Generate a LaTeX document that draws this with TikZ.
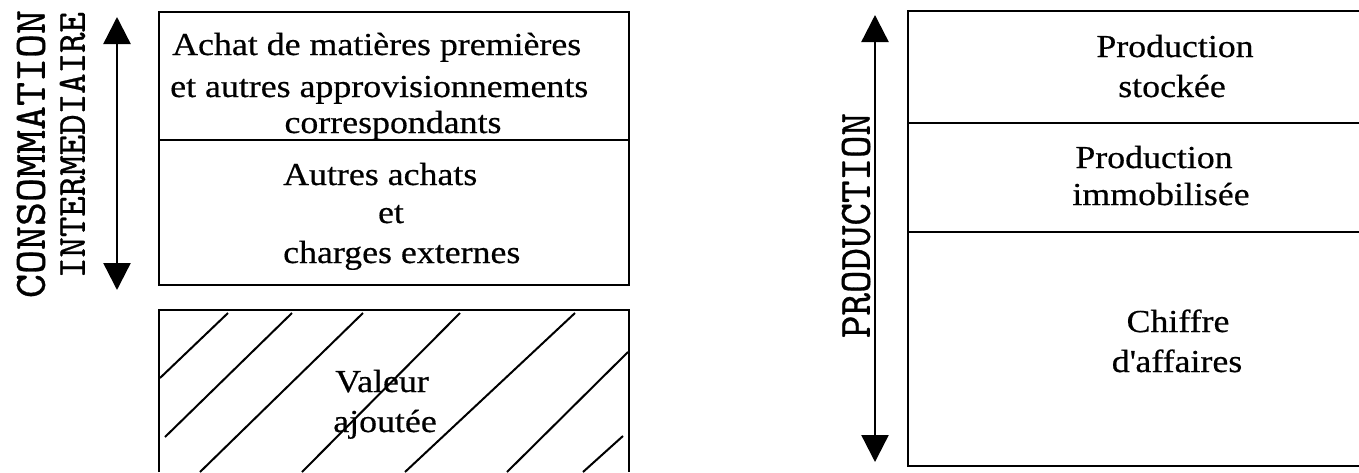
\documentclass[tikz,border=0pt]{standalone}
\usepackage{fontspec}
\setmainfont{Liberation Serif}[FakeStretch=1.12, FakeBold=0.5]
\setmonofont{Latin Modern Mono}[FakeBold=0.6]
\usetikzlibrary{arrows.meta}

\begin{document}
\begin{tikzpicture}[x=1pt, y=-1pt,
  frame/.style={line width=2.2pt},
  hatchline/.style={line width=2pt},
  txt/.style={inner sep=0pt, font=\fontsize{32}{38}\selectfont},
  axisarrow/.style={line width=2.4pt,
    {Triangle[width=27pt,length=27pt]}-{Triangle[width=27pt,length=27pt]}},
  vlabel/.style={inner sep=0pt, rotate=90}]

\useasboundingbox (0,0) rectangle (1359,472);

% ---- left column: intermediate consumption ----
\draw[frame] (159,12) rectangle (629,285);
\draw[frame] (159,140) -- (629,140);

\node[txt, anchor=base west] (achat)   at (172,55)  {Achat de matières premières};
\node[txt, anchor=base west] (appro)   at (170,97)  {et autres approvisionnements};
\node[txt, anchor=base]      (corresp) at (393,133) {correspondants};
\node[txt, anchor=base west] (autres)  at (283,185) {Autres achats};
\node[txt, anchor=base]      (et)      at (391,223) {et};
\node[txt, anchor=base west] (charges) at (283,263) {charges externes};

% value added, hatched
\draw[frame] (159,472) -- (159,310) -- (629,310) -- (629,472);
\draw[hatchline] (228,313) -- (160,378);
\draw[hatchline] (292,313) -- (165,437);
\draw[hatchline] (363,313) -- (200,472);
\draw[hatchline] (460,313) -- (302,472);
\draw[hatchline] (575,313) -- (405,472);
\draw[hatchline] (628,352) -- (507,472);
\draw[hatchline] (623,436) -- (583,472);

\node[txt, anchor=base] (valeur)  at (382,392) {Valeur};
\node[txt, anchor=base] (ajoutee) at (385,432) {ajoutée};

% axis and its caption
\coordinate (ciTop) at (117,17);
\coordinate (ciBot) at (117,290);
\draw[axisarrow] (ciTop) -- (ciBot);
\node[vlabel] (conso) at (31,154)
  {\resizebox{288pt}{28pt}{\ttfamily CONSOMMATION}};
\node[vlabel] (inter) at (72.5,145)
  {\resizebox{266pt}{25pt}{\ttfamily INTERMEDIAIRE}};

% ---- right column: production ----
\draw[frame] (1359,11) -- (908,11) -- (908,466) -- (1359,466);
\draw[frame] (908,123) -- (1359,123);
\draw[frame] (908,232) -- (1359,232);

\node[txt, anchor=base] (prodst)   at (1175,57)  {Production};
\node[txt, anchor=base] (stockee)  at (1172,97)  {stockée};
\node[txt, anchor=base] (prodimm)  at (1154,168) {Production};
\node[txt, anchor=base] (immob)    at (1161,205) {immobilisée};
\node[txt, anchor=base] (chiffre)  at (1178,332) {Chiffre};
\node[txt, anchor=base] (affaires) at (1177,372) {d\textquotesingle affaires};

\coordinate (prTop) at (875,15);
\coordinate (prBot) at (875,462);
\draw[axisarrow] (prTop) -- (prBot);
\node[vlabel] (prod) at (856,225.5)
  {\resizebox{225pt}{28pt}{\ttfamily PRODUCTION}};

\end{tikzpicture}
\end{document}
